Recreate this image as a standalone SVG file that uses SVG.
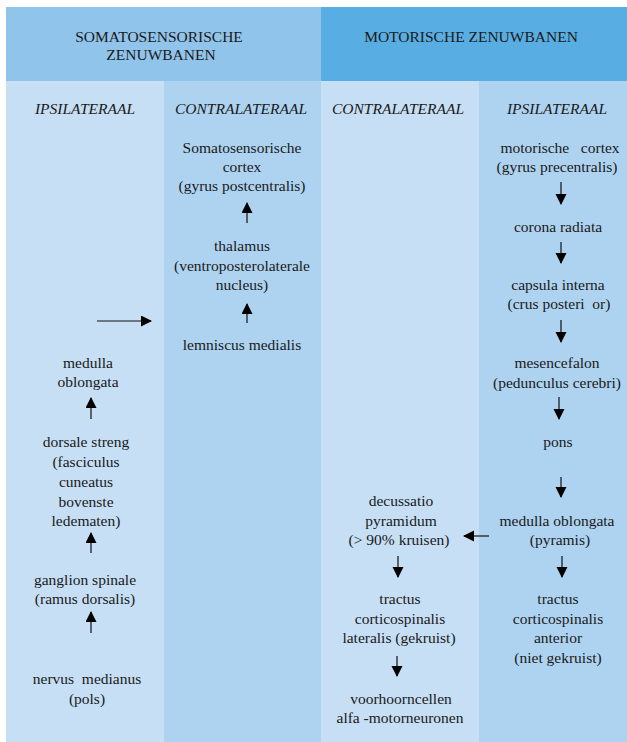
<svg xmlns="http://www.w3.org/2000/svg" width="627" height="742" viewBox="0 0 627 742">
<style>
text{font-family:'Liberation Serif','Times New Roman',Times,'DejaVu Serif',serif;font-size:15.5px;fill:#1a1a1a;text-anchor:middle}
.s{font-style:italic}
.c{stroke:#111;stroke-width:1.2;fill:none}
</style>
<defs>
<marker id="ah" markerUnits="userSpaceOnUse" markerWidth="14" markerHeight="14" refX="10" refY="5.5" orient="auto">
<path d="M0,0 L11,5.5 L0,11 Z" fill="#000"/>
</marker>
</defs>
<g id="background">
<rect x="6" y="7" width="315" height="74" fill="#90c4eb"/>
<rect x="321" y="7" width="306" height="74" fill="#58aee2"/>
<rect x="6" y="81" width="158" height="661" fill="#c6dff4"/>
<rect x="164" y="81" width="157" height="661" fill="#aed3f0"/>
<rect x="321" y="81" width="158" height="661" fill="#c6dff4"/>
<rect x="479" y="81" width="148" height="661" fill="#aed3f0"/>
</g>
<g font-family="Liberation Serif, Times New Roman, serif">
<g id="headers">
<text x="159" y="42">SOMATOSENSORISCHE</text>
<text x="161" y="60">ZENUWBANEN</text>
<text x="471" y="42">MOTORISCHE ZENUWBANEN</text>
<text class="s" x="85" y="114">IPSILATERAAL</text>
<text class="s" x="241" y="114">CONTRALATERAAL</text>
<text class="s" x="398" y="114">CONTRALATERAAL</text>
<text class="s" x="557" y="114">IPSILATERAAL</text>
</g>
<g id="n-cortex-s"><text x="242" y="153">Somatosensorische</text><text x="242" y="172">cortex</text><text x="242" y="191">(gyrus postcentralis)</text></g>
<g id="n-thalamus"><text x="242" y="251">thalamus</text><text x="242" y="271">(ventroposterolaterale</text><text x="242" y="290">nucleus)</text></g>
<g id="n-lemniscus"><text x="242" y="350">lemniscus medialis</text></g>
<g id="n-medulla-s"><text x="88" y="368">medulla</text><text x="88" y="387">oblongata</text></g>
<g id="n-dorsale"><text x="86" y="447">dorsale streng</text><text x="86" y="467">(fasciculus</text><text x="86" y="487">cuneatus</text><text x="86" y="507">bovenste</text><text x="86" y="526">ledematen)</text></g>
<g id="n-ganglion"><text x="85" y="585">ganglion spinale</text><text x="85" y="604">(ramus dorsalis)</text></g>
<g id="n-nervus"><text x="87" y="684" xml:space="preserve">nervus  medianus</text><text x="87" y="704">(pols)</text></g>
<g id="n-cortex-m"><text x="560" y="153" xml:space="preserve">motorische   cortex</text><text x="557" y="172">(gyrus precentralis)</text></g>
<g id="n-corona"><text x="558" y="232">corona radiata</text></g>
<g id="n-capsula"><text x="558" y="290">capsula interna</text><text x="559" y="309" xml:space="preserve">(crus posteri  or)</text></g>
<g id="n-mesencefalon"><text x="557" y="368">mesencefalon</text><text x="557" y="388">(pedunculus cerebri)</text></g>
<g id="n-pons"><text x="558" y="447">pons</text></g>
<g id="n-medulla-m"><text x="557" y="526">medulla oblongata</text><text x="560" y="545">(pyramis)</text></g>
<g id="n-anterior"><text x="558" y="604">tractus</text><text x="558" y="624">corticospinalis</text><text x="558" y="643">anterior</text><text x="558" y="663">(niet gekruist)</text></g>
<g id="n-decussatio"><text x="401" y="506">decussatio</text><text x="401" y="526">pyramidum</text><text x="399" y="545">(&gt; 90% kruisen)</text></g>
<g id="n-lateralis"><text x="400" y="604">tractus</text><text x="400" y="624">corticospinalis</text><text x="399" y="643">lateralis (gekruist)</text></g>
<g id="n-voorhoorn"><text x="401" y="704">voorhoorncellen</text><text x="400" y="723">alfa -motorneuronen</text></g>
</g>
<g id="connectors" class="c" marker-end="url(#ah)">
<line x1="247" y1="223" x2="247" y2="203"/>
<line x1="247" y1="323" x2="247" y2="304"/>
<line x1="91" y1="419" x2="91" y2="398"/>
<line x1="91" y1="553" x2="91" y2="533"/>
<line x1="91" y1="633" x2="91" y2="612"/>
<line x1="97" y1="321" x2="151" y2="321"/>
<line x1="561" y1="182" x2="561" y2="204"/>
<line x1="561" y1="242" x2="561" y2="263"/>
<line x1="561" y1="320" x2="561" y2="342"/>
<line x1="559" y1="397" x2="559" y2="419"/>
<line x1="561" y1="477" x2="561" y2="497"/>
<line x1="562" y1="556" x2="562" y2="577"/>
<line x1="489" y1="536" x2="464" y2="536"/>
<line x1="398" y1="556" x2="398" y2="577"/>
<line x1="397" y1="656" x2="397" y2="676"/>
</g>
</svg>
